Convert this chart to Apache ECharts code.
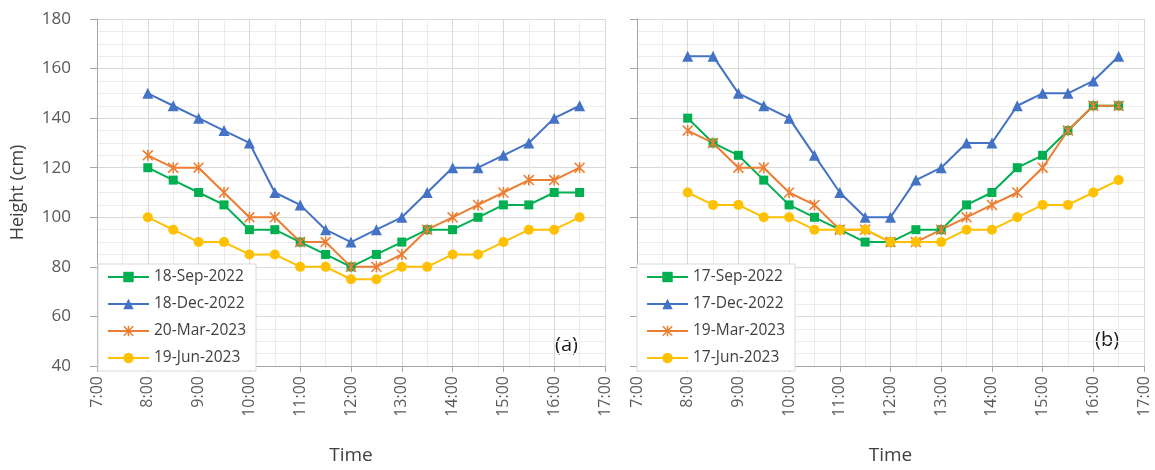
<!DOCTYPE html>
<html>
<head>
<meta charset="utf-8">
<script src="https://cdn.jsdelivr.net/npm/echarts@6/dist/echarts.min.js"></script>
<style>
  html, body { margin: 0; padding: 0; background: #fff; }
  #chart { width: 1155px; height: 470px; }
</style>
</head>
<body>
<div id="chart"></div>
<script>
// Sampling times (every 30 minutes)
const times = ['8:00','8:30','9:00','9:30','10:00','10:30','11:00','11:30','12:00',
               '12:30','13:00','13:30','14:00','14:30','15:00','15:30','16:00','16:30'];

// Panel (a)
const namesA = ['18-Sep-2022', '18-Dec-2022', '20-Mar-2023', '19-Jun-2023'];
const sepA = [120,115,110,105,95,95,90,85,80,85,90,95,95,100,105,105,110,110];
const decA = [150,145,140,135,130,110,105,95,90,95,100,110,120,120,125,130,140,145];
const marA = [125,120,120,110,100,100,90,90,80,80,85,95,100,105,110,115,115,120];
const junA = [100,95,90,90,85,85,80,80,75,75,80,80,85,85,90,95,95,100];

// Panel (b)
const namesB = ['17-Sep-2022', '17-Dec-2022', '19-Mar-2023', '17-Jun-2023'];
const sepB = [140,130,125,115,105,100,95,90,90,95,95,105,110,120,125,135,145,145];
const decB = [165,165,150,145,140,125,110,100,100,115,120,130,130,145,150,150,155,165];
const marB = [135,130,120,120,110,105,95,95,90,90,95,100,105,110,120,135,145,145];
const junB = [110,105,105,100,100,95,95,95,90,90,90,95,95,100,105,105,110,115];

// Axis ticks
const yTicks = [40, 60, 80, 100, 120, 140, 160, 180];
const xHours = [7, 17];

const FONT = '"Open Sans", "Noto Sans", sans-serif';
const colors = ['#00B050', '#4472C4', '#ED7D31', '#FFC000'];
const starPath = 'path://M4.3,0H5.7V10H4.3Z M0,1L1,0L10,9L9,10Z M9,0L10,1L1,10L0,9Z';
const symbols = ['rect', 'triangle', starPath, 'circle'];
const symbolSizes = [9, 11, 11, 10];

const toHours = t => { const [h, m] = t.split(':').map(Number); return h + m / 60; };

function makeSeries(names, sets, gridIdx) {
  return sets.map((vals, k) => ({
    name: names[k],
    type: 'line',
    xAxisIndex: gridIdx,
    yAxisIndex: gridIdx,
    data: times.map((t, i) => [toHours(t), vals[i]]),
    symbol: symbols[k],
    symbolSize: symbolSizes[k],
    showAllSymbol: true,
    color: colors[k],
    lineStyle: { width: 2, color: colors[k] },
    itemStyle: { color: colors[k] },
    emphasis: { disabled: true },
    animation: false
  }));
}

function xAxis(gridIdx) {
  return {
    type: 'value', gridIndex: gridIdx,
    min: xHours[0], max: xHours[1], interval: 1,
    name: 'Time', nameLocation: 'middle', nameGap: 80,
    nameTextStyle: { fontFamily: FONT, fontSize: 19, color: '#404040' },
    axisLine: { show: true, onZero: false, lineStyle: { color: '#a6a6a6', width: 1 } },
    axisTick: { show: true, length: 6, lineStyle: { color: '#a6a6a6' } },
    axisLabel: { rotate: 90, margin: 10, fontFamily: FONT, fontSize: 16, color: '#595959',
                 formatter: v => v + ':00' },
    splitLine: { show: true, lineStyle: { color: '#d9d9d9', width: 1 } },
    minorTick: { show: false, splitNumber: 2 },
    minorSplitLine: { show: true, lineStyle: { color: '#ececec', width: 1 } }
  };
}

function yAxis(gridIdx, withLabels) {
  return {
    type: 'value', gridIndex: gridIdx,
    min: yTicks[0], max: yTicks[yTicks.length - 1], interval: yTicks[1] - yTicks[0],
    name: withLabels ? 'Height (cm)' : '', nameLocation: 'middle', nameGap: 70, nameRotate: 90,
    nameTextStyle: { fontFamily: FONT, fontSize: 18, color: '#404040' },
    axisLine: { show: true, lineStyle: { color: '#a6a6a6', width: 1 } },
    axisTick: { show: true, length: 7, lineStyle: { color: '#a6a6a6' } },
    axisLabel: { show: withLabels, margin: 26, fontFamily: FONT, fontSize: 17, color: '#595959' },
    splitLine: { show: true, lineStyle: { color: '#d9d9d9', width: 1 } },
    minorTick: { show: false, splitNumber: 4 },
    minorSplitLine: { show: true, lineStyle: { color: '#ececec', width: 1 } }
  };
}

function legend(names, left) {
  return {
    data: names,
    orient: 'vertical',
    left: left, top: 264,
    backgroundColor: '#ffffff',
    borderColor: '#d9d9d9', borderWidth: 1,
    padding: [5, 10, 5, 9],
    itemWidth: 41, itemHeight: 13, itemGap: 11,
    textStyle: { fontFamily: FONT, fontSize: 15.5, color: '#404040' },
    selectedMode: false
  };
}

const chart = echarts.init(document.getElementById('chart'), null, { renderer: 'canvas' });
chart.setOption({
  animation: false,
  backgroundColor: '#ffffff',
  grid: [
    { left: 97, top: 19, width: 508, height: 350 },
    { left: 637, top: 19, width: 507, height: 350 }
  ],
  xAxis: [xAxis(0), xAxis(1)],
  yAxis: [yAxis(0, true), yAxis(1, false)],
  legend: [legend(namesA, 98), legend(namesB, 637)],
  series: [
    ...makeSeries(namesA, [sepA, decA, marA, junA], 0),
    ...makeSeries(namesB, [sepB, decB, marB, junB], 1)
  ],
  graphic: [
    { type: 'text', left: 555, top: 335, style: { text: '(a)', fontFamily: FONT, fontSize: 20, fill: '#1a1a1a' } },
    { type: 'text', left: 1095, top: 330, style: { text: '(b)', fontFamily: FONT, fontSize: 20, fill: '#1a1a1a' } }
  ]
});
</script>
</body>
</html>
